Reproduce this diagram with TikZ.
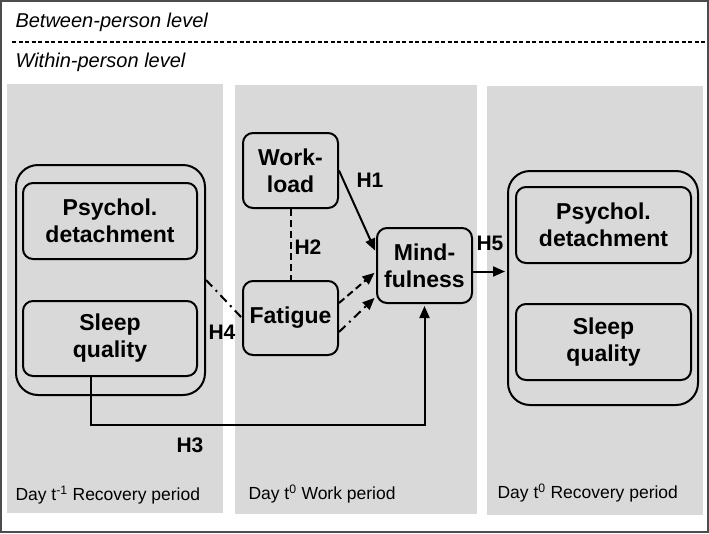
\documentclass[tikz,border=0pt]{standalone}
\usepackage{fontspec}
\setmainfont{Liberation Sans}
\usetikzlibrary{arrows.meta}

\begin{document}
\begin{tikzpicture}[x=1pt,y=-1pt,
  every text node part/.style={align=center},
  var/.style={draw,rounded corners=10pt,line width=2pt,inner sep=0pt,
    font=\fontsize{23}{27}\selectfont\bfseries},
  group/.style={draw,rounded corners=22pt,line width=2pt,inner sep=0pt},
  hyp/.style={font=\fontsize{21}{24}\selectfont\bfseries},
  period/.style={anchor=west,font=\fontsize{17.5}{20}\selectfont},
  level/.style={anchor=west,font=\fontsize{20}{22}\selectfont\itshape},
  dsh/.style={dash pattern=on 7pt off 4pt},
  dshdot/.style={dash pattern=on 9pt off 5pt on 2pt off 5pt},
  path/.style={line width=2pt,-{Triangle[length=12pt,width=10pt]},shorten >=2pt}]

\useasboundingbox(0,0)rectangle(709,533);
\draw[line width=1.5pt,draw=black!70](1,1)rectangle(708,532);

\draw(12,22)node[level]{Between-person level};
\draw[line width=1.5pt,dash pattern=on 4pt off 2.5pt](12,42)--(705,42);
\draw(12,62)node[level]{Within-person level};

% periods
\fill[black!15](7,84)rectangle(223,513);
\fill[black!15](235,85)rectangle(477,514);
\fill[black!15](487,86)rectangle(703,515);

\draw(12,495)node[period]{Day t\textsuperscript{-1} Recovery period};
\draw(245,494)node[period]{Day t\textsuperscript{0} Work period};
\draw(494,493)node[period]{Day t\textsuperscript{0} Recovery period};

% day t-1
\node[group,minimum width=189pt,minimum height=230pt](lout)at(110.5,280){};
\node[var,minimum width=174pt,minimum height=76pt](lpd)at(110,221){Psychol.\\detachment};
\node[var,minimum width=174pt,minimum height=75pt](lsq)at(110,338.5){Sleep\\quality};

% day t0 work
\node[var,minimum width=95pt,minimum height=75pt](wl)at(290.5,170.5){Work-\\load};
\node[var,minimum width=95pt,minimum height=74pt](fat)at(290.5,318){Fatigue};
\node[var,minimum width=95pt,minimum height=75pt](mind)at(424.5,265.5){Mind-\\fulness};

% day t0 recovery
\node[group,minimum width=190pt,minimum height=234pt](rout)at(603,288){};
\node[var,minimum width=175pt,minimum height=76pt](rpd)at(603.5,225){Psychol.\\detachment};
\node[var,minimum width=175pt,minimum height=76pt](rsq)at(603.5,342){Sleep\\quality};

% hypotheses
\draw[path](wl.east)--([yshift=13pt]mind.west);
\draw[dsh,line width=2pt](wl)--(fat);
\draw[path,dsh]([yshift=15pt]fat.east)--([yshift=-6pt]mind.west);
\draw[path,dshdot]([yshift=-14pt]fat.east)--([yshift=-31pt]mind.west);
\draw[dshdot,line width=2pt](lout.east)--(fat.west);
\draw[path]([yshift=-6pt]mind.east)coordinate(h5)--(h5-|rout.west);
\coordinate(h3)at(0,425);
\draw[path]([xshift=-19pt]lsq.south)|-(h3-|mind.south)--(mind.south);

\draw(370,180)node[hyp]{H1};
\draw(308,247)node[hyp]{H2};
\draw(190,445)node[hyp]{H3};
\draw(222,332)node[hyp]{H4};
\draw(490,243)node[hyp]{H5};

\end{tikzpicture}
\end{document}
